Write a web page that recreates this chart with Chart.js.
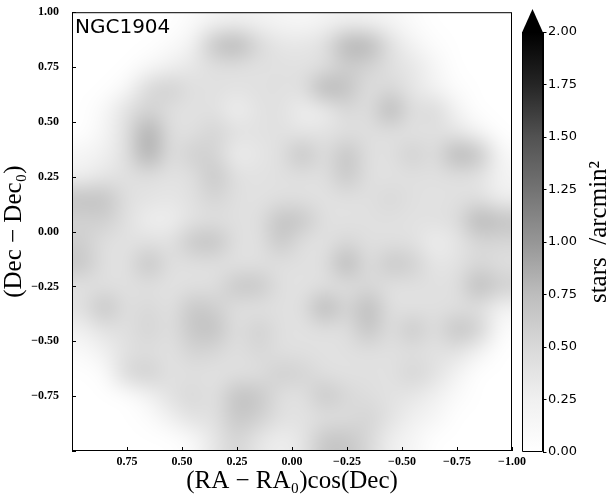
<!DOCTYPE html>
<html>
<head>
<meta charset="utf-8">
<script src="https://cdn.jsdelivr.net/npm/chart.js@4.4.1/dist/chart.umd.min.js"></script>
<style>
  body { margin: 0; background: #fff; }
  #wrap { position: relative; width: 608px; height: 496px; }
  #map { position: absolute; left: 0; top: 0; }
  #cbar { position: absolute; left: 508px; top: 0; }
</style>
</head>
<body>
<div id="wrap">
  <canvas id="map" width="608" height="496"></canvas>
  <canvas id="cbar" width="100" height="496"></canvas>
</div>
<script>
// cluster field, stellar surface density on a 0.1 deg grid
var clusterName = 'NGC1904';
var raCenters  = [0.95, 0.85, 0.75, 0.65, 0.55, 0.45, 0.35, 0.25, 0.15, 0.05,
                  -0.05, -0.15, -0.25, -0.35, -0.45, -0.55, -0.65, -0.75, -0.85, -0.95];
var decCenters = [0.95, 0.85, 0.75, 0.65, 0.55, 0.45, 0.35, 0.25, 0.15, 0.05,
                  -0.05, -0.15, -0.25, -0.35, -0.45, -0.55, -0.65, -0.75, -0.85, -0.95];
// stars / arcmin^2, one row per Dec bin (top to bottom), columns follow raCenters
var density = [
  [0,0,0,0,0,0.08,0.2,0.25,0.22,0.16,0.14,0.2,0.25,0.22,0.16,0.06,0,0,0,0],
  [0,0,0,0,0.08,0.2,0.72,0.82,0.52,0.36,0.36,0.42,0.82,0.82,0.42,0.2,0.05,0,0,0],
  [0,0,0,0.12,0.25,0.36,0.42,0.42,0.4,0.42,0.4,0.42,0.6,0.55,0.42,0.36,0.16,0,0,0],
  [0,0,0.12,0.52,0.6,0.42,0.42,0.4,0.42,0.42,0.42,0.82,0.72,0.42,0.52,0.36,0.2,0.05,0,0],
  [0,0.12,0.42,0.55,0.42,0.4,0.42,0.24,0.4,0.42,0.26,0.26,0.52,0.42,0.82,0.42,0.52,0.2,0,0],
  [0,0.16,0.42,0.88,0.42,0.42,0.55,0.42,0.4,0.42,0.36,0.4,0.42,0.45,0.42,0.4,0.42,0.36,0.16,0],
  [0.16,0.25,0.42,0.88,0.42,0.6,0.55,0.26,0.36,0.42,0.72,0.42,0.72,0.42,0.42,0.6,0.42,0.82,0.72,0.12],
  [0.25,0.36,0.42,0.42,0.4,0.42,0.68,0.42,0.4,0.42,0.42,0.42,0.68,0.42,0.4,0.42,0.42,0.42,0.4,0.2],
  [0.72,0.72,0.42,0.4,0.36,0.42,0.55,0.42,0.4,0.42,0.42,0.4,0.42,0.42,0.52,0.42,0.4,0.42,0.42,0.25],
  [0.55,0.6,0.42,0.26,0.26,0.4,0.42,0.42,0.42,0.72,0.68,0.42,0.4,0.42,0.42,0.4,0.42,0.45,0.82,0.72],
  [0.6,0.42,0.4,0.42,0.4,0.68,0.72,0.42,0.4,0.68,0.42,0.4,0.52,0.42,0.42,0.42,0.26,0.36,0.52,0.52],
  [0.68,0.42,0.4,0.72,0.42,0.42,0.42,0.4,0.42,0.42,0.42,0.42,0.82,0.42,0.68,0.6,0.36,0.4,0.52,0.42],
  [0.4,0.42,0.42,0.42,0.4,0.42,0.42,0.68,0.68,0.42,0.4,0.42,0.42,0.52,0.4,0.42,0.42,0.42,0.78,0.6],
  [0.42,0.72,0.42,0.52,0.4,0.68,0.6,0.42,0.4,0.42,0.42,0.82,0.52,0.78,0.42,0.4,0.42,0.42,0.42,0.2],
  [0.25,0.4,0.42,0.55,0.42,0.68,0.72,0.42,0.6,0.42,0.4,0.42,0.42,0.72,0.42,0.68,0.42,0.72,0.6,0.05],
  [0.08,0.25,0.42,0.45,0.4,0.55,0.52,0.42,0.52,0.42,0.42,0.4,0.42,0.42,0.42,0.42,0.4,0.4,0.2,0],
  [0,0.05,0.52,0.6,0.4,0.42,0.4,0.42,0.42,0.6,0.55,0.42,0.4,0.42,0.4,0.55,0.42,0.2,0,0],
  [0,0,0.02,0.2,0.42,0.52,0.4,0.72,0.68,0.42,0.4,0.68,0.52,0.45,0.4,0.36,0.25,0.08,0,0],
  [0,0,0,0.05,0.25,0.42,0.4,0.68,0.6,0.42,0.4,0.42,0.45,0.55,0.4,0.25,0.16,0,0,0],
  [0,0,0,0,0,0.08,0.36,0.55,0.36,0.26,0.36,0.68,0.68,0.52,0.26,0.16,0,0,0,0]
];
var axisMin = -1, axisMax = 1, axisStep = 0.25;
var cbarMax = 2, cbarStep = 0.25;
var xTitle = '(RA \u2212 RA\u2080)cos(Dec)';
var yTitle = '(Dec \u2212 Dec\u2080)';
var cbarTitle = 'stars  /arcmin\u00b2';

// matplotlib "Greys"
var greysLevels = [255, 240, 217, 189, 150, 115, 82, 37, 0];
function greys(t) {
  t = Math.max(0, Math.min(1, t));
  var n = greysLevels.length - 1;
  var p = t * n, i = Math.min(Math.floor(p), n - 1), f = p - i;
  var c = Math.round(greysLevels[i] + (greysLevels[i + 1] - greysLevels[i]) * f);
  return 'rgb(' + c + ',' + c + ',' + c + ')';
}

function fmt(v) {
  return (v < 0 ? '\u2212' : '') + Math.abs(v).toFixed(2);
}

var cells = [];
for (var j = 0; j < decCenters.length; j++) {
  for (var i = 0; i < raCenters.length; i++) {
    cells.push({x: raCenters[i], y: decCenters[j], v: density[j][i]});
  }
}
var cellSize = Math.abs(raCenters[0] - raCenters[1]);

function cellRadius(c) {
  var s = c.chart.scales.x;
  var side = Math.abs(s.getPixelForValue(cellSize) - s.getPixelForValue(0)) + 1;
  return side / Math.SQRT2;
}

// running box blur, edges clamped
function boxPass(src, dst, w, h, r, horizontal) {
  var norm = 1 / (2 * r + 1);
  var n = horizontal ? w : h, lines = horizontal ? h : w;
  for (var l = 0; l < lines; l++) {
    var idx = function (k) {
      k = k < 0 ? 0 : (k >= n ? n - 1 : k);
      return horizontal ? l * w + k : k * w + l;
    };
    var acc = 0;
    for (var k = -r; k <= r; k++) acc += src[idx(k)];
    for (var k2 = 0; k2 < n; k2++) {
      dst[idx(k2)] = acc * norm;
      acc += src[idx(k2 + r + 1)] - src[idx(k2 - r)];
    }
  }
}

// smooth the cell grid like a KDE map (3 box passes ~ gaussian)
var smoothPlugin = {
  id: 'smooth',
  afterDatasetsDraw: function (chart) {
    var a = chart.chartArea, ctx = chart.ctx;
    var x0 = Math.round(a.left), y0 = Math.round(a.top);
    var w = Math.round(a.right - a.left), h = Math.round(a.bottom - a.top);
    var img = ctx.getImageData(x0, y0, w, h), d = img.data;
    var g = new Float32Array(w * h), t = new Float32Array(w * h);
    for (var k = 0; k < w * h; k++) g[k] = d[k * 4 + 3] ? d[k * 4] : 255;
    for (var p = 0; p < 3; p++) {
      boxPass(g, t, w, h, 10, true);
      boxPass(t, g, w, h, 10, false);
    }
    for (var m = 0; m < w * h; m++) {
      var c = Math.round(g[m]);
      d[m * 4] = d[m * 4 + 1] = d[m * 4 + 2] = c;
      d[m * 4 + 3] = 255;
    }
    ctx.putImageData(img, x0, y0);
  }
};

var framePlugin = {
  id: 'frame',
  afterDraw: function (chart) {
    var a = chart.chartArea, ctx = chart.ctx;
    var xs = chart.scales.x, ys = chart.scales.y;
    ctx.save();
    ctx.strokeStyle = '#000';
    ctx.lineWidth = 1;
    ctx.strokeRect(a.left + 0.5, a.top + 0.5, a.right - a.left - 1, a.bottom - a.top - 1);
    ctx.beginPath();
    ys.ticks.forEach(function (t, k) {
      var py = Math.round(ys.getPixelForTick(k)) + 0.5;
      ctx.moveTo(a.left, py); ctx.lineTo(a.left + 4, py);
    });
    xs.ticks.forEach(function (t, k) {
      var px = Math.round(xs.getPixelForTick(k)) + 0.5;
      ctx.moveTo(px, a.bottom); ctx.lineTo(px, a.bottom - 4);
    });
    ctx.stroke();
    ctx.fillStyle = '#000';
    ctx.font = '20px "DejaVu Sans"';
    ctx.textBaseline = 'alphabetic';
    ctx.textAlign = 'left';
    ctx.fillText(clusterName, a.left + 3, a.top + 21);
    ctx.restore();
  }
};

var tickFont = {family: 'Liberation Serif', weight: 'bold', size: 12};
var titleFont = {family: 'Liberation Serif', size: 25, lineHeight: 1.15};

new Chart(document.getElementById('map'), {
  type: 'scatter',
  data: {
    datasets: [{
      data: cells,
      pointStyle: 'rect',
      pointRadius: cellRadius,
      pointHoverRadius: cellRadius,
      pointBorderWidth: 0,
      pointHoverBorderWidth: 0,
      pointBackgroundColor: function (c) { return c.raw ? greys(c.raw.v / cbarMax) : '#fff'; },
      pointHoverBackgroundColor: function (c) { return c.raw ? greys(c.raw.v / cbarMax) : '#fff'; }
    }]
  },
  options: {
    responsive: false,
    animation: false,
    events: [],
    layout: {padding: {left: 0, top: 11, right: 96, bottom: 0}},
    plugins: {legend: {display: false}, tooltip: {enabled: false}},
    scales: {
      x: {
        type: 'linear', min: axisMin, max: axisMax, reverse: true,
        afterFit: function (s) { s.height = 45; },
        grid: {display: false}, border: {display: false},
        ticks: {
          stepSize: axisStep, padding: -4, color: '#000', font: tickFont,
          maxRotation: 0, autoSkip: false,
          callback: function (v) { return v === axisMax ? '' : fmt(v); }
        },
        title: {display: true, text: xTitle, color: '#000',
                font: {family: 'Liberation Serif', size: 25, lineHeight: 1}, padding: {top: 0, bottom: 2}}
      },
      y: {
        type: 'linear', min: axisMin, max: axisMax,
        afterFit: function (s) { s.width = 72; },
        grid: {display: false}, border: {display: false},
        ticks: {
          stepSize: axisStep, padding: 5, color: '#000', font: tickFont, autoSkip: false,
          callback: function (v) { return v === axisMin ? '' : fmt(v); }
        },
        title: {display: true, text: yTitle, color: '#000', font: titleFont, padding: {top: 0, bottom: 0}}
      }
    }
  },
  plugins: [smoothPlugin, framePlugin]
});

// colour bar with the "max" extension triangle
var greysStops = greysLevels.slice();
function cbarFill(c) {
  var chart = c.chart;
  if (!chart.chartArea) return '#888';
  var y = chart.scales.y;
  var g = chart.ctx.createLinearGradient(0, y.getPixelForValue(0), 0, y.getPixelForValue(cbarMax));
  greysStops.forEach(function (v, k) {
    g.addColorStop(k / (greysStops.length - 1), 'rgb(' + v + ',' + v + ',' + v + ')');
  });
  return g;
}

var cbarPlugin = {
  id: 'cbarExtend',
  afterDraw: function (chart) {
    var a = chart.chartArea, ctx = chart.ctx, y = chart.scales.y;
    var top = y.getPixelForValue(cbarMax);
    var tip = (y.getPixelForValue(0) - top) * 0.055;
    ctx.save();
    ctx.fillStyle = '#000';
    ctx.beginPath();
    ctx.moveTo(a.left, top + 0.5);
    ctx.lineTo((a.left + a.right) / 2, top - tip);
    ctx.lineTo(a.right, top + 0.5);
    ctx.closePath();
    ctx.fill();
    ctx.strokeStyle = '#000';
    ctx.lineWidth = 1;
    ctx.beginPath();
    ctx.moveTo(a.left + 0.5, top);
    ctx.lineTo(a.left + 0.5, a.bottom - 0.5);
    ctx.lineTo(a.right - 0.5, a.bottom - 0.5);
    ctx.lineTo(a.right - 0.5, top);
    ctx.stroke();
    // colour bar label, reading upwards
    ctx.translate(98, (top + a.bottom) / 2 - 10);
    ctx.rotate(-Math.PI / 2);
    ctx.font = '25px "Liberation Serif"';
    ctx.textAlign = 'center';
    ctx.textBaseline = 'alphabetic';
    ctx.fillText(cbarTitle, 0, 0);
    ctx.restore();
  }
};

new Chart(document.getElementById('cbar'), {
  type: 'bar',
  data: {
    labels: [''],
    datasets: [{
      data: [cbarMax],
      backgroundColor: cbarFill,
      borderWidth: 0,
      barPercentage: 1,
      categoryPercentage: 1
    }]
  },
  options: {
    responsive: false,
    animation: false,
    events: [],
    layout: {padding: {left: 14, top: 32, right: 0, bottom: 44}},
    plugins: {legend: {display: false}, tooltip: {enabled: false}},
    scales: {
      x: {display: false},
      y: {
        position: 'right', min: 0, max: cbarMax,
        afterFit: function (s) { s.width = 65; },
        grid: {drawOnChartArea: false, drawTicks: true, tickLength: 3.5, color: '#000'},
        border: {display: true, color: '#000'},
        ticks: {
          stepSize: cbarStep, padding: 1.5, color: '#000',
          font: {family: 'DejaVu Sans', size: 13},
          callback: function (v) { return v.toFixed(2); }
        }
      }
    }
  },
  plugins: [cbarPlugin]
});
</script>
</body>
</html>
